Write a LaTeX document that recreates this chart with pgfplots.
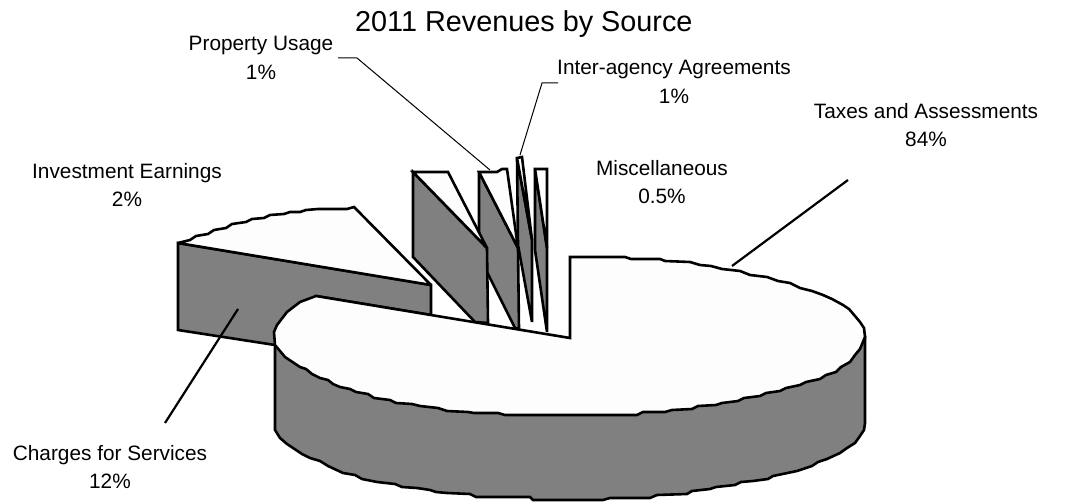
\documentclass[border=0pt]{standalone}
\usepackage{fontspec}
\setmainfont{Liberation Sans}
\usepackage{pgfplots}
\pgfplotsset{compat=1.18}
\definecolor{sidegrey}{HTML}{808080}
\definecolor{topwhite}{HTML}{FDFDFD}
\pgfplotsset{
  side/.style={draw=black,fill=sidegrey,line width=2.6pt,line join=miter,miter limit=3,mark=none},
  top/.style={draw=black,fill=topwhite,line width=2.6pt,line join=miter,miter limit=3,mark=none},
  leader/.style={draw=black,mark=none},
}
\tikzset{lab/.style={align=center,inner sep=0pt,font=\fontsize{20.8}{28.5}\selectfont}}
\begin{document}
\begin{tikzpicture}
\begin{axis}[
  scale only axis,width=1071pt,height=502pt,
  xmin=0,xmax=1071,ymin=0,ymax=502,y dir=reverse,
  axis lines=none,clip=false,
]
% Charges for Services: exploded wedge
\addplot[side] coordinates {(178,243)(431,285)(431,315)(316,296)(290,320)(275,345)(178,330)} -- cycle;
\addplot[top] coordinates {(178,243)(190,240)(196,236)(208,234)(214,230)(226,228)(232,224)(246,222)(252,219)(264,218)(270,215)(284,214)(290,212)(300,212)(306,210)(318,209)(347,209)(354,207)(431,285)} -- cycle;
% Miscellaneous
\addplot[side] coordinates {(535,169)(547,248)(547,332)(535,250)} -- cycle;
\addplot[top] coordinates {(535,169)(547,169)(547,248)} -- cycle;
% Inter-agency Agreements
\addplot[side] coordinates {(517,158)(532,240)(532,322)(518,245)} -- cycle;
\addplot[top] coordinates {(517,158)(522,157)(532,240)} -- cycle;
% Property Usage
\addplot[side] coordinates {(479,172)(518,248)(519,329)(515,328)(479,256)} -- cycle;
\addplot[top] coordinates {(479,172)(497,172)(502,169)(507,169)(518,248)} -- cycle;
% Investment Earnings
\addplot[side] coordinates {(413,172)(487,248)(488,323)(475,322)(413,257)} -- cycle;
\addplot[top] coordinates {(413,172)(448,172)(487,248)} -- cycle;
% Taxes and Assessments: rim, then top face
\addplot[side] coordinates {(275,345)(275,430)(280,438)(287,444)(293,448)(302,454)(310,458)(320,461)(328,466)(343,473)(355,475)(362,479)(377,482)(395,484)(402,487)(417,488)(430,490)(436,492)(447,493)(470,494)(476,497)(530,497)(533,500)(603,500)(610,498)(650,498)(657,495)(687,494)(692,491)(710,489)(716,487)(735,485)(741,482)(753,481)(768,479)(773,476)(797,471)(812,466)(818,462)(827,459)(840,453)(847,448)(855,443)(860,436)(864,430)(865,423)(865,337)} -- cycle;
\addplot[top] coordinates {(570,338)(316,296)(300,302)(287,312)(277,325)(274,332)(275,345)(285,357)(291,361)(300,367)(306,369)(312,374)(320,378)(328,380)(333,384)(340,387)(350,389)(356,392)(368,394)(374,398)(390,400)(396,403)(412,404)(420,406)(438,408)(447,411)(468,412)(474,413)(498,413)(505,415)(637,415)(643,412)(665,412)(672,410)(692,409)(698,406)(716,405)(722,403)(738,401)(744,398)(760,396)(766,393)(780,391)(786,388)(800,385)(806,382)(820,379)(826,375)(836,372)(841,367)(850,362)(855,355)(860,349)(865,337)(864,328)(860,322)(855,316)(849,309)(843,305)(832,299)(823,295)(812,291)(800,288)(790,283)(778,281)(767,277)(750,275)(740,271)(722,269)(711,266)(700,265)(690,262)(665,261)(660,259)(631,259)(625,257)(570,257)} -- cycle;
% Leader lines
\addplot[leader,line width=1pt] coordinates {(338,58)(357,58)(490,170)};
\addplot[leader,line width=1pt] coordinates {(558,83)(542,83)(520,155)};
\addplot[leader,line width=2.2pt] coordinates {(848,180)(732,266)};
\addplot[leader,line width=2.2pt] coordinates {(238,309)(165,423)};
% Title and labels
\node[inner sep=0pt,font=\fontsize{28.8}{32}\selectfont,anchor=base west] at (axis cs:355,32) {2011 Revenues by Source};
\node[lab] at (axis cs:261,58) {Property Usage\\1\%};
\node[lab] at (axis cs:674,82) {Inter-agency Agreements\\1\%};
\node[lab] at (axis cs:926,125) {Taxes and Assessments\\84\%};
\node[lab] at (axis cs:127,185) {Investment Earnings\\2\%};
\node[lab] at (axis cs:662,182) {Miscellaneous\\0.5\%};
\node[lab] at (axis cs:110,467) {Charges for Services\\12\%};
\end{axis}
\pgfresetboundingbox
\path[use as bounding box] (current axis.south west) rectangle (current axis.north east);
\end{tikzpicture}
\end{document}
